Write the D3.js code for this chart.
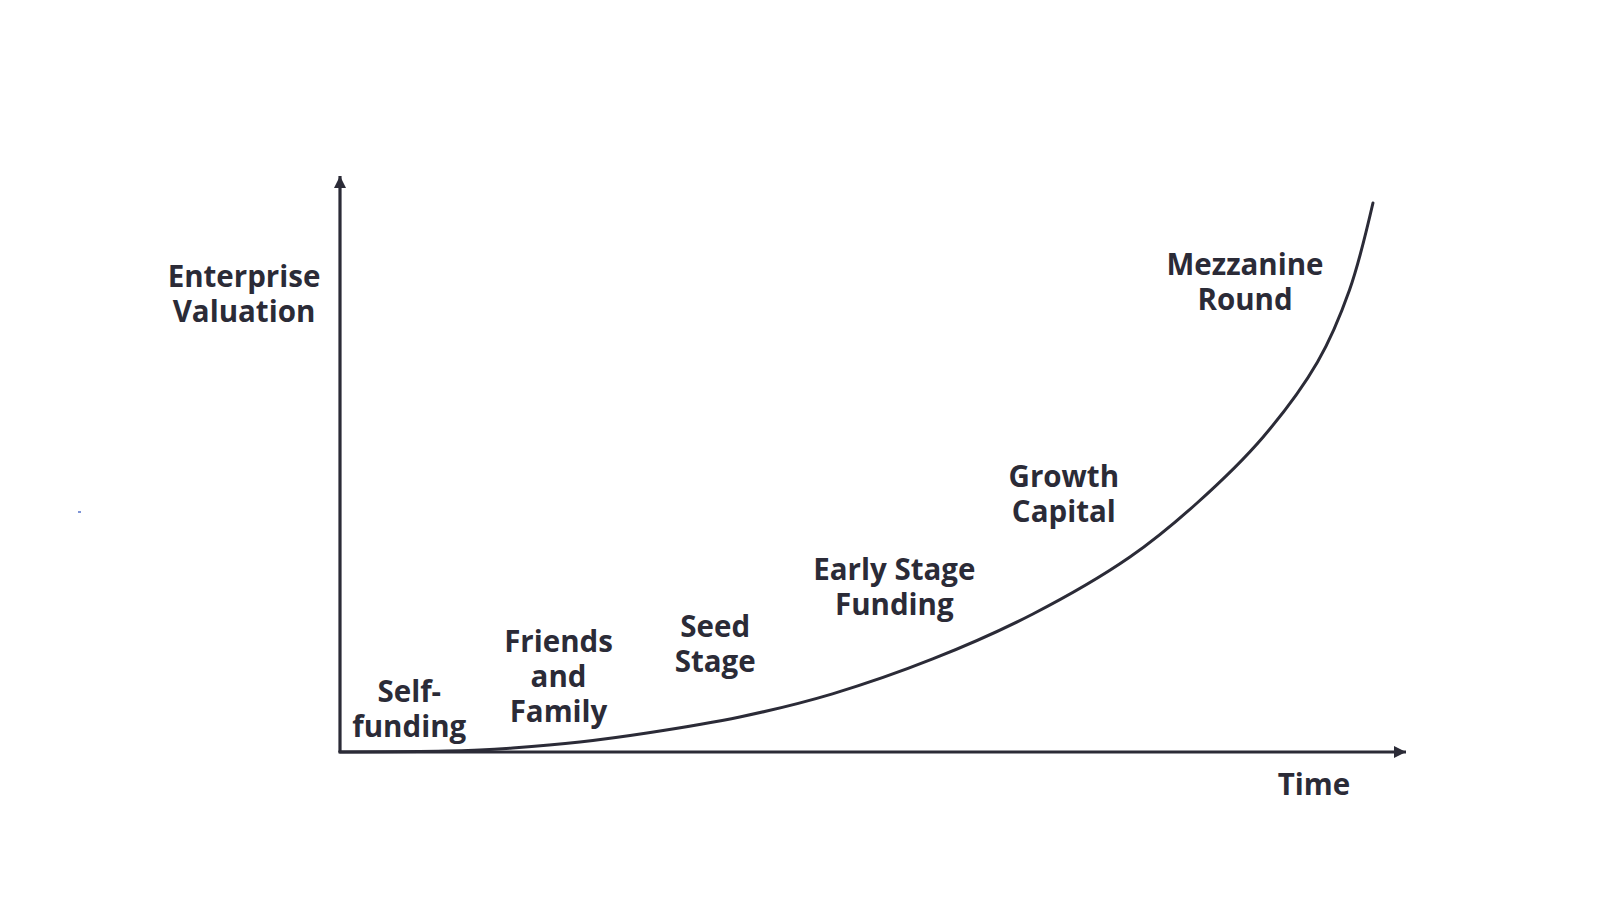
<!DOCTYPE html>
<html>
<head>
<meta charset="utf-8">
<script src="https://cdn.jsdelivr.net/npm/d3@7"></script>
<style>
  html, body { margin: 0; padding: 0; background: #ffffff; }
  svg { display: block; }
  text { font-family: "Open Sans", "Noto Sans", sans-serif; font-weight: 700; fill: #2b2b37; }
</style>
</head>
<body>
<svg id="chart" width="1600" height="900"></svg>
<script>
// ---- data (time units 0..10, valuation units 0..100) ----
const curveTime = [0, 0.75, 1.31, 1.62, 2.25, 2.88, 3.75, 4.62, 5.56, 6.50, 7.41, 8.04, 8.66, 9.17, 9.47, 9.69];
const curveValue = [0, 0.09, 0.35, 0.69, 1.74, 3.30, 6.08, 10.1, 16.15, 23.96, 33.85, 43.23, 54.69, 67.7, 80.21, 95.31];

const stageNames = [
  ["Self-", "funding"],
  ["Friends", "and", "Family"],
  ["Seed", "Stage"],
  ["Early Stage", "Funding"],
  ["Growth", "Capital"],
  ["Mezzanine", "Round"]
];
// position of each label: centre (time) and baseline of its last line (valuation)
const stageTime = [0.65, 2.05, 3.52, 5.20, 6.79, 8.49];
const stageValue = [2.6, 5.2, 13.9, 23.8, 39.9, 76.7];

const yAxisTitle = ["Enterprise", "Valuation"];
const xAxisTitle = "Time";

// ---- layout ----
const ink = "#2b2b37";
const fontSize = 29.5;
const lineH = 35;
const svg = d3.select("#chart");
const x = d3.scaleLinear().domain([0, 10]).range([340, 1406]);
const y = d3.scaleLinear().domain([0, 100]).range([752, 176]);

// arrow marker
const defs = svg.append("defs");
defs.append("marker")
  .attr("id", "arrow")
  .attr("viewBox", "0 0 12 12")
  .attr("refX", 12).attr("refY", 6)
  .attr("markerWidth", 12).attr("markerHeight", 12)
  .attr("markerUnits", "userSpaceOnUse")
  .attr("orient", "auto")
  .append("path")
  .attr("d", "M0,0 L12,6 L0,12 Z")
  .attr("fill", ink);

// axes
svg.append("line")
  .attr("x1", x(0)).attr("y1", y(0))
  .attr("x2", x(0)).attr("y2", y(100))
  .attr("stroke", ink).attr("stroke-width", 3.2)
  .attr("marker-end", "url(#arrow)");
svg.append("line")
  .attr("x1", x(0) - 1.5).attr("y1", y(0))
  .attr("x2", x(10)).attr("y2", y(0))
  .attr("stroke", ink).attr("stroke-width", 3.2)
  .attr("marker-end", "url(#arrow)");

// growth curve
const pts = curveTime.map((t, i) => [t, curveValue[i]]);
svg.append("path")
  .datum(pts)
  .attr("fill", "none")
  .attr("stroke", ink)
  .attr("stroke-width", 3)
  .attr("stroke-linecap", "round")
  .attr("d", d3.line().x(d => x(d[0])).y(d => y(d[1])).curve(d3.curveCatmullRom.alpha(0.5)));

// stage labels (anchor = baseline of last line)
stageNames.forEach((lines, i) => {
  const cx = x(stageTime[i]);
  const by = y(stageValue[i]);
  const t = svg.append("text")
    .attr("text-anchor", "middle")
    .attr("font-size", fontSize);
  lines.forEach((s, j) => {
    t.append("tspan")
      .attr("x", cx)
      .attr("y", by - (lines.length - 1 - j) * lineH)
      .text(s);
  });
});

// axis titles
const yt = svg.append("text").attr("text-anchor", "middle").attr("font-size", fontSize);
yAxisTitle.forEach((s, j) => {
  yt.append("tspan").attr("x", 244).attr("y", 287 + j * lineH).text(s);
});
svg.append("text")
  .attr("text-anchor", "middle")
  .attr("font-size", fontSize)
  .attr("x", 1314).attr("y", 795)
  .text(xAxisTitle);

// small speck present in the reference
svg.append("rect").attr("x", 78).attr("y", 511).attr("width", 3).attr("height", 2).attr("fill", "#7f95d6");
</script>
</body>
</html>
